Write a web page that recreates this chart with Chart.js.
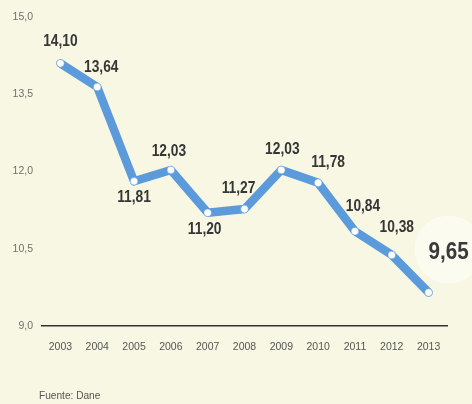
<!DOCTYPE html>
<html>
<head>
<meta charset="utf-8">
<script src="https://cdn.jsdelivr.net/npm/chart.js@4"></script>
<style>
html,body{margin:0;padding:0;background:#f8f7e3;}
#wrap{width:472px;height:404px;position:relative;}
</style>
</head>
<body>
<div id="wrap"><canvas id="c" width="472" height="404"></canvas></div>
<script>
const years = ['2003','2004','2005','2006','2007','2008','2009','2010','2011','2012','2013'];
const values = [14.10, 13.64, 11.81, 12.03, 11.20, 11.27, 12.03, 11.78, 10.84, 10.38, 9.65];
const yTicks = [9.0, 10.5, 12.0, 13.5, 15.0];
const source = 'Fuente: Dane';

const labelOffsets = [[0,-22],[4,-19],[0,16],[-2,-18],[-3,17],[-6,-21],[1,-20],[10,-20],[8,-25],[5,-27],[20,-40]];
const FONT = '"Liberation Sans", Arial, sans-serif';
const fmt = v => v.toFixed(2).replace('.', ',');

function squeezeText(ctx, text, x, y, sx) {
  ctx.save();
  ctx.translate(x, y);
  ctx.scale(sx, 1);
  ctx.fillText(text, 0, 0);
  ctx.restore();
}

const labelPlugin = {
  id: 'labels',
  afterDatasetsDraw(chart) {
    const ctx = chart.ctx;
    const meta = chart.getDatasetMeta(0);
    ctx.save();
    ctx.textAlign = 'center';
    ctx.textBaseline = 'middle';
    meta.data.forEach((pt, i) => {
      const [dx, dy] = labelOffsets[i];
      const x = pt.x + dx, y = pt.y + dy;
      if (i === values.length - 1) {
        ctx.fillStyle = 'rgba(255,255,252,0.55)';
        ctx.beginPath();
        ctx.arc(x, y - 3, 34, 0, Math.PI * 2);
        ctx.fill();
        ctx.fillStyle = '#3a3a3a';
        ctx.font = 'bold 24px ' + FONT;
        squeezeText(ctx, fmt(values[i]), x, y, 0.86);
      } else {
        ctx.fillStyle = '#363636';
        ctx.font = 'bold 16px ' + FONT;
        squeezeText(ctx, fmt(values[i]), x, y, 0.86);
      }
    });
    ctx.textAlign = 'left';
    ctx.fillStyle = '#555';
    ctx.font = '11px ' + FONT;
    squeezeText(ctx, source, 39, 396, 0.92);
    ctx.restore();
  }
};

new Chart(document.getElementById('c'), {
  type: 'line',
  data: {
    labels: years,
    datasets: [{
      data: values,
      borderColor: '#5b9bdb',
      borderWidth: 8.5,
      borderJoinStyle: 'round',
      borderCapStyle: 'round',
      pointRadius: 3.8,
      pointBackgroundColor: '#ffffff',
      pointBorderColor: '#5b9bdb',
      pointBorderWidth: 0.5,
      tension: 0,
      clip: false
    }]
  },
  options: {
    responsive: false,
    animation: false,
    devicePixelRatio: 1,
    layout: { padding: { top: 17, right: 25, bottom: 48, left: 0 } },
    plugins: { legend: { display: false }, tooltip: { enabled: false } },
    scales: {
      x: {
        offset: true,
        grid: { display: false, drawTicks: false },
        border: { display: true, color: '#333', width: 1.5 },
        ticks: { color: '#555', font: { family: FONT, size: 10.5 }, padding: 15, maxRotation: 0 },
        afterFit(s) { s.height = 30; }
      },
      y: {
        min: 9, max: 15,
        afterBuildTicks(s) { s.ticks = yTicks.map(v => ({ value: v })); },
        grid: { display: false, drawTicks: false },
        border: { display: false },
        ticks: { color: '#707070', font: { family: FONT, size: 10.5 }, padding: 9,
          callback: v => v.toFixed(1).replace('.', ',') },
        afterFit(s) { s.width = 42; }
      }
    }
  },
  plugins: [labelPlugin]
});
</script>
</body>
</html>
